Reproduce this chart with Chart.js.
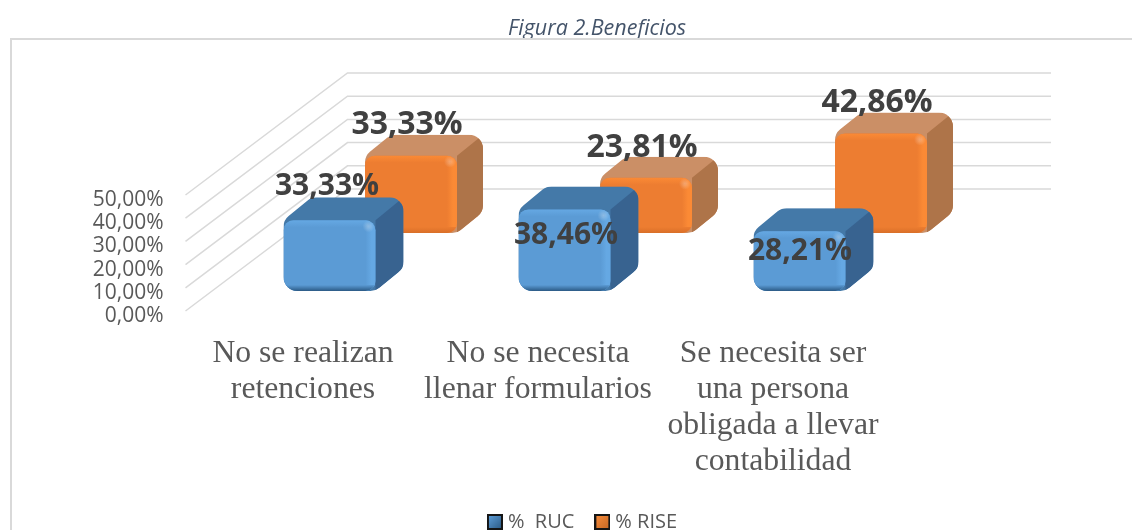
<!DOCTYPE html>
<html>
<head>
<meta charset="utf-8">
<title>Figura 2.Beneficios</title>
<script src="https://cdn.jsdelivr.net/npm/chart.js@4"></script>
<style>
    html, body { margin: 0; padding: 0; background: #fff; }
    canvas { display: block; }
</style>
</head>
<body>
<canvas id="benefitsChart" width="1132" height="530"></canvas>
<script>
// ==== DATA ====
const categories = [
    ["No se realizan", "retenciones"],
    ["No se necesita", "llenar formularios"],
    ["Se necesita ser", "una persona", "obligada a llevar", "contabilidad"],
];
const rucValues = [33.33, 38.46, 28.21];
const riseValues = [33.33, 23.81, 42.86];
const yTicks = [0, 10, 20, 30, 40, 50];

// ==== LOOK OF THE FAKE 3D ====
const boxLook = [
    { shiftX: 26.5, shiftY: -25, depthX: 28, depthY: 23, front: "#5b9bd5", light: "#65a8e3", dark: "#2b5a85", top: "#4479a8", side: "#386390" },
    { shiftX: 108, shiftY: -83, depthX: 26, depthY: 21, front: "#ed7d31", light: "#fb8a35", dark: "#d96f28", top: "#cb8f66", side: "#ae7449" },
];
// walls start a little above the tick text
const wallLift = 5;
// label position relative to the bar's top, one list per series
const labelNudge = [
    [[24, -59], [28, 1], [27, -5]],
    [[104, -114], [104, -113], [104, -114]],
];
const labelSize = [30, 32];

function formatPercent(v) {
    return v.toFixed(2).replace(".", ",") + "%";
}

function roundedPath(ctx, pts, r) {
    ctx.beginPath();
    const last = pts[pts.length - 1];
    ctx.moveTo((last[0] + pts[0][0]) / 2, (last[1] + pts[0][1]) / 2);
    pts.forEach((p, i) => {
        const next = pts[(i + 1) % pts.length];
        ctx.arcTo(p[0], p[1], next[0], next[1], r);
    });
    ctx.closePath();
}

function drawBox(ctx, l, r, t, b, look) {
    const dx = look.depthX;
    const dy = look.depthY;

    ctx.save();
    roundedPath(ctx, [[l, b], [l, t], [l + dx, t - dy], [r + dx, t - dy], [r + dx, b - dy], [r, b]], 14);
    ctx.clip();
    ctx.fillStyle = look.top;
    ctx.fillRect(l, t - dy, r + dx - l, b - t + dy);

    // side face
    ctx.fillStyle = look.side;
    ctx.beginPath();
    ctx.moveTo(r, t);
    ctx.lineTo(r + dx, t - dy);
    ctx.lineTo(r + dx, b - dy);
    ctx.lineTo(r, b);
    ctx.closePath();
    ctx.fill();

    // front face with its bevel
    roundedPath(ctx, [[l, b], [l, t], [r, t], [r, b]], 10);
    ctx.fillStyle = look.front;
    ctx.fill();
    ctx.clip();

    let g = ctx.createLinearGradient(r - 10, 0, r, 0);
    g.addColorStop(0, look.front);
    g.addColorStop(0.6, look.light);
    g.addColorStop(1, look.light);
    ctx.fillStyle = g;
    ctx.fillRect(r - 10, t, 10, b - t);

    g = ctx.createLinearGradient(0, t, 0, t + 7);
    g.addColorStop(0, look.light);
    g.addColorStop(1, look.front);
    ctx.fillStyle = g;
    ctx.fillRect(l, t, r - l - 6, 7);

    g = ctx.createLinearGradient(0, b - 6, 0, b);
    g.addColorStop(0, look.front);
    g.addColorStop(1, look.dark);
    ctx.fillStyle = g;
    ctx.fillRect(l, b - 6, r - l, 6);

    g = ctx.createRadialGradient(r - 7, t + 6, 0, r - 7, t + 6, 6);
    g.addColorStop(0, "rgba(255,255,255,0.3)");
    g.addColorStop(1, "rgba(255,255,255,0)");
    ctx.fillStyle = g;
    ctx.fillRect(r - 13, t, 13, 12);
    ctx.restore();
}

function legendMarker(colorA, colorB) {
    const c = document.createElement("canvas");
    c.width = 16;
    c.height = 16;
    const m = c.getContext("2d");
    m.fillStyle = "#151515";
    m.fillRect(0, 0, 16, 16);
    const g = m.createLinearGradient(2, 2, 14, 14);
    g.addColorStop(0, colorA);
    g.addColorStop(1, colorB);
    m.fillStyle = g;
    m.fillRect(2, 2, 12, 12);
    return c;
}
const legendMarkers = [legendMarker("#5b9bd5", "#2f5f8a"), legendMarker("#f58a3a", "#c96a25")];

const fake3d = {
    id: "fake3d",
    afterLayout(chart) {
        // title and legend are not centred on the canvas in the original
        chart.titleBlock.left = 62;
        chart.titleBlock.right = 1132;
        chart.legend.left = 37;
        chart.legend.right = 1132;
        chart.legend.top = 487;
        // room for the four line label, ticks are clipped to the scale box
        chart.scales.x.bottom = 500;
    },
    beforeDatasetsDraw(chart) {
        const { ctx, chartArea, scales } = chart;
        ctx.save();
        ctx.strokeStyle = "#d9d9d9";

        // outer frame, top and left only
        ctx.lineWidth = 2;
        ctx.beginPath();
        ctx.moveTo(11, 530);
        ctx.lineTo(11, 39);
        ctx.lineTo(1132, 39);
        ctx.stroke();

        // side wall and back wall
        ctx.lineWidth = 1.5;
        scales.y.ticks.forEach((tick) => {
            const y = scales.y.getPixelForValue(tick.value) - wallLift;
            ctx.beginPath();
            ctx.moveTo(chartArea.left, y);
            ctx.lineTo(chartArea.left + 162, y - 122);
            ctx.lineTo(chartArea.left + 865.5, y - 122);
            ctx.stroke();
        });
        ctx.restore();
    },
    beforeDatasetDraw(chart, args) {
        const look = boxLook[args.index];
        chart.getDatasetMeta(args.index).data.forEach((bar) => {
            const p = bar.getProps(["x", "y", "base", "width"], true);
            drawBox(
                chart.ctx,
                p.x - p.width / 2 + look.shiftX,
                p.x + p.width / 2 + look.shiftX,
                p.y + look.shiftY,
                p.base + look.shiftY,
                look
            );
        });
        return false;
    },
    afterDatasetsDraw(chart) {
        const { ctx } = chart;
        ctx.save();
        ctx.fillStyle = "#404040";
        ctx.textAlign = "center";
        ctx.textBaseline = "middle";
        chart.data.datasets.forEach((ds, i) => {
            ctx.font = `bold ${labelSize[i]}px "Open Sans"`;
            chart.getDatasetMeta(i).data.forEach((bar, j) => {
                const p = bar.getProps(["x", "y"], true);
                ctx.fillText(formatPercent(ds.data[j]), p.x + labelNudge[i][j][0], p.y + labelNudge[i][j][1]);
            });
        });
        ctx.restore();
    },
};

new Chart(document.getElementById("benefitsChart"), {
    type: "bar",
    data: {
        labels: categories,
        datasets: [
            { label: "%  RUC", data: rucValues, yAxisID: "yRuc", backgroundColor: "#5b9bd5" },
            { label: "% RISE", data: riseValues, yAxisID: "y", backgroundColor: "#ed7d31" },
        ],
    },
    options: {
        responsive: false,
        animation: false,
        layout: { padding: { right: 241.5 } },
        datasets: { bar: { grouped: false, barThickness: 92 } },
        scales: {
            x: {
                grid: { display: false, drawTicks: false },
                border: { display: false },
                ticks: {
                    autoSkip: false,
                    maxRotation: 0,
                    minRotation: 0,
                    padding: 20,
                    color: "#595959",
                    font: { family: "Liberation Serif", size: 31.7, lineHeight: 1.136 },
                },
                afterFit(scale) {
                    scale.height = 159;
                },
            },
            y: {
                min: 0,
                max: 50,
                afterBuildTicks(scale) {
                    scale.ticks = yTicks.map((value) => ({ value }));
                },
                grid: { display: false, drawTicks: false },
                border: { display: false },
                ticks: {
                    autoSkip: false,
                    padding: 22,
                    color: "#595959",
                    font: { family: "Open Sans", size: 21 },
                    callback: (v) => formatPercent(v),
                },
                afterFit(scale) {
                    scale.width = 185.5;
                },
            },
            // the front row is drawn slightly flatter than the axis
            yRuc: { display: false, min: 0, max: 54.7 },
        },
        plugins: {
            title: {
                display: true,
                text: "Figura 2.Beneficios",
                color: "#44546a",
                font: { family: "Open Sans", size: 21.5, style: "italic", weight: "normal", lineHeight: 1.2 },
                padding: { top: 16, bottom: 158.2 },
            },
            legend: {
                position: "bottom",
                labels: {
                    usePointStyle: true,
                    pointStyleWidth: 6,
                    boxHeight: 16,
                    padding: 25,
                    color: "#595959",
                    font: { family: "Open Sans", size: 20 },
                    generateLabels(chart) {
                        return Chart.defaults.plugins.legend.labels.generateLabels(chart).map((item, i) => ({
                            ...item,
                            pointStyle: legendMarkers[i],
                        }));
                    },
                },
            },
            tooltip: { enabled: false },
        },
    },
    plugins: [fake3d],
});
</script>
</body>
</html>
